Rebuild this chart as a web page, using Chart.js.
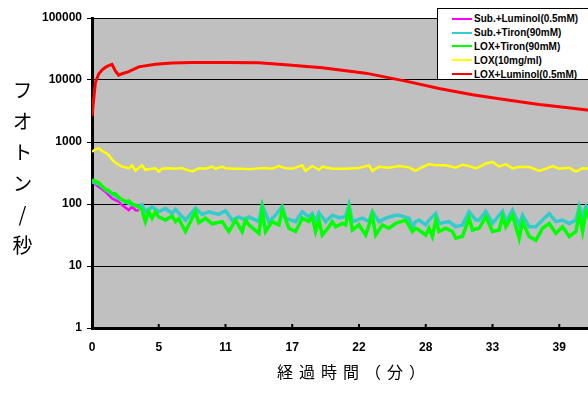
<!DOCTYPE html>
<html>
<head>
<meta charset="utf-8">
<script src="https://cdn.jsdelivr.net/npm/chart.js@4"></script>
<style>
  body { margin: 0; background: #fff; overflow: hidden; }
  #wrap { position: relative; width: 626px; height: 394px; }
  #ytitle {
    position: absolute; left: 11px; top: 80px;
    writing-mode: vertical-rl; text-orientation: upright;
    font-family: "Noto Sans CJK JP", sans-serif; font-size: 20px;
    letter-spacing: 11px; color: #000; line-height: 22px;
  }
  #xtitle {
    position: absolute; left: 277px; top: 360px; white-space: nowrap;
    font-family: "Noto Sans CJK JP", sans-serif; font-size: 16px;
    letter-spacing: 6px; color: #000; line-height: 22px;
  }
  #legend {
    position: absolute; left: 437px; top: 8px; width: 200px; height: 72px;
    background: #fff; border: 1px solid #000; box-sizing: border-box;
    font-family: "Liberation Sans", Arial, sans-serif; font-weight: bold; font-size: 10px;
    padding-top: 3px;
  }
  #legend .row { height: 13.8px; display: flex; align-items: center; }
  #legend .sw { width: 20px; height: 2px; margin-left: 14px; margin-right: 2px; }
</style>
</head>
<body>
<div id="wrap">
  <canvas id="myChart" width="626" height="394"></canvas>
  <div id="ytitle">フオトン/秒</div>
  <div id="xtitle">経過時間（分）</div>
  <div id="legend"></div>
</div>
<script>
// x values are sample numbers (one sample every ~17 s), tick every 20 samples
var xTickLabels = ['0', '5', '11', '17', '22', '28', '33', '39'];
var yTickValues = [1, 10, 100, 1000, 10000, 100000];

var seriesNames = [
    'Sub.+Luminol(0.5mM)',
    'Sub.+Tiron(90mM)',
    'LOX+Tiron(90mM)',
    'LOX(10mg/ml)',
    'LOX+Luminol(0.5mM)'
];
var seriesColors = ['#ff00ff', '#33cccc', '#00ff00', '#ffff00', '#ff0000'];

var magentaT = [0, 2, 4, 6, 8, 9, 11, 12, 13, 14];
var magentaV = [230, 190, 158, 123, 109, 96, 80, 90, 80, 78];

var cyanT = [0, 2, 4, 6, 8, 10, 12, 14, 15, 16, 18, 20, 22, 24, 25, 28, 31, 33, 35, 38, 40, 42, 44, 46,
    47, 50, 51, 53, 55, 57, 58, 61, 63, 65, 66, 67, 68, 70, 72, 74, 76, 77, 78, 81, 83, 84, 86, 88,
    91, 92, 95, 96, 97, 98, 100, 101, 103, 104, 107, 109, 111, 113, 115, 116, 118, 120, 123, 124, 126, 128,
    129, 131, 133, 135, 137, 139, 141, 143, 145, 146, 147, 148, 150];
var cyanV = [230, 210, 170, 145, 125, 108, 98, 92, 97, 75, 90, 75, 85, 70, 82, 55, 85, 68, 75, 68, 78, 55, 62, 55,
    62, 52, 97, 52, 66, 91, 59, 52, 75, 62, 70, 52, 72, 52, 66, 60, 62, 97, 52, 59, 52, 76, 52, 59,
    66, 66, 59, 43, 52, 55, 46, 55, 70, 48.6, 52, 43, 46, 75, 55, 55, 76, 48.6, 76, 52, 80, 46,
    66, 43, 43, 55, 70, 52, 55, 48.6, 55, 91, 62, 91, 60];

var greenT = [0, 2, 4, 5, 6, 7, 8, 10, 11, 12, 14, 15, 16, 17, 18, 19, 20, 22, 24, 25, 26, 28, 31, 32,
    34, 36, 39, 41, 43, 45, 46, 47, 50, 51, 52, 54, 56, 57, 59, 61, 63, 65, 66, 67, 68, 69, 71, 72,
    73, 75, 76, 77, 78, 80, 82, 84, 85, 87, 89, 91, 94, 96, 97, 98, 100, 101, 102, 103, 104, 106, 108, 109,
    111, 113, 114, 116, 118, 120, 122, 123, 124, 126, 128, 129, 131, 133, 135, 137, 139, 141, 143, 145, 146, 147,
    148, 150];
var greenV = [244, 220, 172, 165, 148, 145, 128, 109, 112, 100, 90, 80, 52, 75, 59, 75, 62, 55, 64, 52, 58, 36, 75, 50,
    59, 48, 52, 36, 55, 36, 55, 46, 33.6, 80, 36, 52, 46, 80, 40.6, 36, 59, 52, 62, 36, 55, 31.5, 43, 52,
    43, 48.6, 46, 80, 38, 46, 31.5, 66, 31.5, 46, 40.6, 48.6, 55, 36, 40.6, 38, 31.5, 40.6, 30, 55, 36, 40.6, 36, 28,
    30, 59, 38, 40.6, 62, 36, 38, 62, 43, 66, 28, 52, 30, 26, 40.6, 48.6, 33.6, 43, 30, 36, 70.5, 36,
    75, 45];

var yellowT = [0, 1, 2, 3, 4, 5, 6, 7, 8, 9, 10, 11, 12, 13, 14, 15, 16, 18, 19, 20, 21, 23, 25, 27,
    28, 30, 32, 34, 36, 37, 39, 40, 42, 45, 47, 49, 52, 54, 56, 58, 60, 63, 64, 66, 68, 69, 72, 76,
    80, 83, 84, 86, 89, 92, 95, 97, 99, 101, 103, 106, 109, 111, 113, 115, 117, 118, 120, 122, 124, 126,
    128, 131, 134, 136, 138, 140, 143, 145, 147, 149, 152];
var yellowV = [697, 760, 790, 720, 670, 617, 520, 463, 430, 400, 390, 376, 420, 345, 380, 420, 356, 370, 376, 334, 370, 376, 370, 380,
    360, 334, 376, 370, 400, 370, 400, 376, 372, 372, 365, 372, 380, 372, 410, 376, 370, 420, 342, 410, 356, 400, 370, 372,
    380, 420, 342, 400, 385, 410, 390, 342, 395, 440, 420, 420, 385, 430, 410, 376, 420, 450, 475, 400, 440, 376,
    400, 395, 342, 370, 410, 372, 385, 334, 376, 370, 380];

var redT = [0, 1, 2, 3, 4, 5, 6, 7, 8, 9, 11, 14, 19, 24, 30, 40, 50, 58, 69, 82, 94, 104, 114, 124,
    134, 142, 149, 156];
var redV = [2600, 9000, 12500, 14500, 16000, 17000, 17900, 14000, 12000, 12600, 13600, 16300, 17900, 18800, 19100, 19200, 18900, 17600, 15800, 12900, 9600, 7300, 5800, 4800,
    4040, 3600, 3250, 3000];

function toPoints(t, v) {
    var pts = [];
    for (var i = 0; i < t.length; i++) {
        pts.push({x: t[i], y: v[i]});
    }
    return pts;
}

var seriesData = [
    toPoints(magentaT, magentaV),
    toPoints(cyanT, cyanV),
    toPoints(greenT, greenV),
    toPoints(yellowT, yellowV),
    toPoints(redT, redV)
];
var lineWidths = [2.5, 3.5, 3.5, 2.5, 3];

var datasets = [];
for (var i = 0; i < seriesNames.length; i++) {
    datasets.push({
        label: seriesNames[i],
        data: seriesData[i],
        borderColor: seriesColors[i],
        backgroundColor: seriesColors[i],
        borderWidth: lineWidths[i],
        pointRadius: 0,
        tension: 0,
        // later series on top, like the original
        order: seriesNames.length - i
    });
}

var plotBg = {
    id: 'plotBg',
    beforeDraw: function (chart) {
        var a = chart.chartArea;
        var ctx = chart.ctx;
        ctx.save();
        ctx.fillStyle = '#c0c0c0';
        ctx.fillRect(a.left, a.top, a.right - a.left, a.bottom - a.top);
        ctx.restore();
    },
    // small inward tick marks on the x axis
    afterDraw: function (chart) {
        var xs = chart.scales.x;
        var ctx = chart.ctx;
        var bottom = chart.chartArea.bottom;
        ctx.save();
        ctx.strokeStyle = '#000';
        ctx.lineWidth = 2;
        xs.ticks.forEach(function (t) {
            var px = xs.getPixelForValue(t.value);
            ctx.beginPath();
            ctx.moveTo(px, bottom);
            ctx.lineTo(px, bottom - 4);
            ctx.stroke();
        });
        ctx.restore();
    }
};

var tickFont = {family: '"Liberation Sans", Arial, sans-serif', size: 12, weight: 'bold'};

var chart = new Chart('myChart', {
    type: 'line',
    data: {datasets: datasets},
    options: {
        responsive: false,
        animation: false,
        layout: {padding: {top: 18, left: 0, right: 0, bottom: 0}},
        plugins: {legend: {display: false}, tooltip: {enabled: false}},
        scales: {
            x: {
                type: 'linear',
                min: 0,
                max: 160,
                afterBuildTicks: function (scale) {
                    scale.ticks = xTickLabels.map(function (l, i) { return {value: i * 20}; });
                },
                afterFit: function (scale) { scale.height = 66; },
                ticks: {
                    autoSkip: false,
                    maxRotation: 0,
                    padding: 4,
                    color: '#000',
                    font: tickFont,
                    callback: function (v) { return xTickLabels[v / 20]; }
                },
                grid: {display: false},
                border: {color: '#000', width: 3}
            },
            y: {
                type: 'logarithmic',
                min: 1,
                max: 100000,
                afterBuildTicks: function (scale) {
                    scale.ticks = yTickValues.map(function (v) { return {value: v}; });
                },
                afterFit: function (scale) { scale.width = 92; },
                ticks: {
                    padding: 5,
                    color: '#000',
                    font: tickFont,
                    callback: function (v) { return String(v); }
                },
                grid: {color: '#000', lineWidth: 1, tickLength: 5},
                border: {color: '#000', width: 3}
            }
        }
    },
    plugins: [plotBg]
});

// legend box drawn from the chart's datasets
var legendBox = document.getElementById('legend');
chart.data.datasets.forEach(function (ds) {
    var row = document.createElement('div');
    row.className = 'row';
    var sw = document.createElement('span');
    sw.className = 'sw';
    sw.style.background = ds.borderColor;
    var txt = document.createElement('span');
    txt.textContent = ds.label;
    row.appendChild(sw);
    row.appendChild(txt);
    legendBox.appendChild(row);
});
</script>
</body>
</html>
